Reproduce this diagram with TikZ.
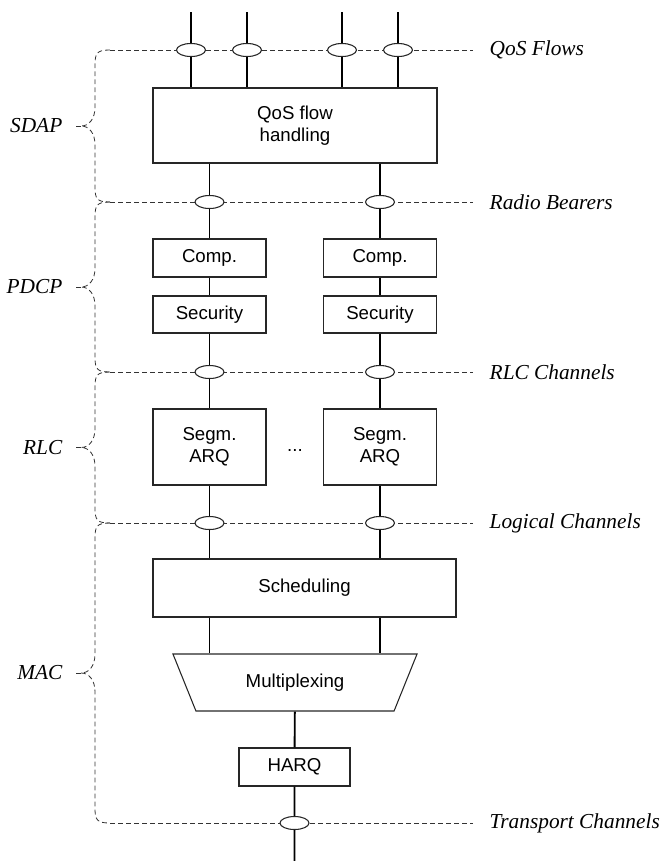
\documentclass[tikz,border=0pt]{standalone}
\usepackage{fontspec}
\setmainfont{Liberation Sans}
\newfontfamily\labelserif{Liberation Serif}
\usetikzlibrary{shapes,arrows,positioning,calc,shapes.geometric}

\tikzset{
	block/.style={draw=black!85, line width=0.8pt, align=center, inner sep=0pt,
		font=\fontsize{14}{16.5}\selectfont},
	smallbox/.style={block, minimum width=84.75pt, minimum height=28.5pt},
	chan/.style={ellipse, draw=black!85, fill=white, line width=0.8pt,
		minimum width=21.75pt, minimum height=9.75pt, inner sep=0pt},
	sap/.style={draw=black!80, line width=0.6pt, dash pattern=on 3.6pt off 2.4pt},
	flow/.style={line width=1.4pt},
	chanlabel/.style={anchor=west, font=\labelserif\itshape\fontsize{16}{19}\selectfont},
	layerlabel/.style={anchor=east, font=\labelserif\itshape\fontsize{16}{19}\selectfont},
}

\begin{document}
\begin{tikzpicture}[
				x=0.75pt, y=-0.75pt,
			]
			% layer borders (y) and columns (x)
			\pgfmathsetmacro{\yqf}{50}
			\pgfmathsetmacro{\yrb}{202}
			\pgfmathsetmacro{\yrc}{372}
			\pgfmathsetmacro{\ylc}{523}
			\pgfmathsetmacro{\ytc}{823}
			\pgfmathsetmacro{\xl}{209.5}
			\pgfmathsetmacro{\xr}{380}
			\pgfmathsetmacro{\xm}{294.5}

			\useasboundingbox (0,0) rectangle (661,861);

			\node[chanlabel] (qflab) at (485,\yqf) {QoS Flows};
			\node[chanlabel] (rblab) at (485,\yrb) {Radio Bearers};
			\node[chanlabel] (rclab) at (485,\yrc) {RLC Channels};
			\node[chanlabel] (lclab) at (485,\ylc) {Logical Channels};
			\node[chanlabel] (tclab) at (485,\ytc) {Transport Channels};

			\foreach \y/\lab in {\yqf/qflab, \yrb/rblab, \yrc/rclab, \ylc/lclab, \ytc/tclab}
				\draw[sap] (110,\y) -- ([xshift=-9pt]\lab.west);

			% braces
			\foreach \t/\b/\name in {\yqf/\yrb/SDAP, \yrb/\yrc/PDCP, \yrc/\ylc/RLC, \ylc/\ytc/MAC}{
				\pgfmathsetmacro{\m}{(\t+\b)/2}
				\draw[sap] (110,\t) .. controls (97,\t) and (95,\t+3) .. (95,\t+15) -- (95,\m-19)
					.. controls (95,\m-7) and (89,\m) .. (81,\m)
					.. controls (89,\m) and (95,\m+7) .. (95,\m+19) -- (95,\b-15)
					.. controls (95,\b-3) and (97,\b) .. (110,\b);
				\draw[sap] (81,\m) -- (76,\m);
				\node[layerlabel] (\name) at (67,\m) {\name};
			}

			% blocks
			\node[block, minimum width=213pt, minimum height=56.25pt] (qos) at (295,125.5) {QoS flow\\handling};
			\node[smallbox] (comp1) at (\xl,258) {Comp.};
			\node[smallbox] (comp2) at (\xr,258) {Comp.};
			\node[smallbox, minimum height=27.75pt] (sec1) at (\xl,314.5) {Security};
			\node[smallbox, minimum height=27.75pt] (sec2) at (\xr,314.5) {Security};
			\node[smallbox, minimum height=57pt] (segm1) at (\xl,447) {Segm.\\ARQ};
			\node[smallbox, minimum height=57pt] (segm2) at (\xr,447) {Segm.\\ARQ};
			\node[anchor=base, font=\fontsize{14}{16.5}\selectfont] (dots) at (295,451) {...};
			\node[block, minimum width=227.25pt, minimum height=43.5pt] (sched) at (304.5,588) {Scheduling};
			\node[block, trapezium, shape border rotate=180, trapezium angle=56.7,
				trapezium stretches=true, minimum width=184.5pt, minimum height=42.75pt] (mux) at (295,682.5) {Multiplexing};
			\node[block, minimum width=83.25pt, minimum height=28.5pt] (harq) at (\xm,767) {HARQ};

			% channels
			\foreach \x [count=\i] in {191,247,342,398}{
				\node[chan] (qf\i) at (\x,\yqf) {};
				\coordinate (in\i) at (\x,12);
				\draw[flow] (in\i) -- (qf\i) -- (qf\i |- qos.north);
			}
			\foreach \x [count=\c] in {\xl,\xr}{
				\node[chan] (rb\c) at (\x,\yrb) {};
				\node[chan] (rc\c) at (\x,\yrc) {};
				\node[chan] (lc\c) at (\x,\ylc) {};
				\draw[flow] (rb\c |- qos.south) -- (rb\c) -- (comp\c) -- (sec\c) -- (rc\c)
					-- (segm\c) -- (lc\c) -- (lc\c |- sched.north);
				\draw[flow] (lc\c |- sched.south) -- (lc\c |- mux.north);
			}
			\node[chan] (tc) at (\xm,\ytc) {};
			\coordinate (out) at (\xm,861);
			\draw[flow] (mux) -- (harq) -- (tc) -- (out);

		\end{tikzpicture}
\end{document}
